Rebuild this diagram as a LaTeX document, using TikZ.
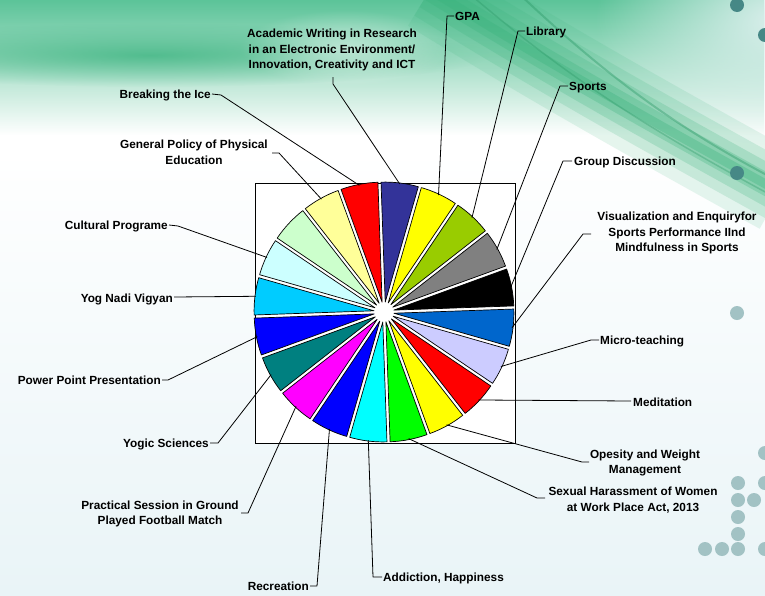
\documentclass[tikz,border=0pt]{standalone}
\usepackage{fontspec}
\setmainfont{Liberation Sans}
\usetikzlibrary{calc,fadings}
\tikzfading[name=softblob, inner color=transparent!0, outer color=transparent!100]
\tikzfading[name=topfade, top color=transparent!0, middle color=transparent!8, bottom color=transparent!100]
\definecolor{mintA}{HTML}{5CC499}
\definecolor{mintB}{HTML}{3FB582}
\definecolor{swA}{HTML}{38B27B}
\definecolor{swB}{HTML}{2A9866}
\definecolor{paleTR}{HTML}{DDF0EE}
\definecolor{bgB}{HTML}{E9F4F7}
\definecolor{dotD}{HTML}{468886}
\definecolor{dotL}{HTML}{A2C2C4}
\definecolor{sA}{HTML}{333399}
\definecolor{sB}{HTML}{FFFF00}
\definecolor{sC}{HTML}{99CC00}
\definecolor{sD}{HTML}{808080}
\definecolor{sE}{HTML}{000000}
\definecolor{sF}{HTML}{0066CC}
\definecolor{sG}{HTML}{CCCCFF}
\definecolor{sH}{HTML}{FF0000}
\definecolor{sI}{HTML}{FFFF00}
\definecolor{sJ}{HTML}{00FF00}
\definecolor{sK}{HTML}{00FFFF}
\definecolor{sL}{HTML}{0000FF}
\definecolor{sM}{HTML}{FF00FF}
\definecolor{sN}{HTML}{008080}
\definecolor{sO}{HTML}{0000FF}
\definecolor{sP}{HTML}{00CCFF}
\definecolor{sQ}{HTML}{CCFFFF}
\definecolor{sR}{HTML}{CCFFCC}
\definecolor{sS}{HTML}{FFFF99}
\definecolor{sT}{HTML}{FF0000}
\begin{document}
\begin{tikzpicture}[x=1pt,y=-1pt,
  lbl/.style={font=\fontsize{11.8}{15.5}\selectfont\bfseries, inner sep=0pt, align=center, text=black},
  one/.style={lbl, text height=8.6pt, text depth=0pt},
  lead/.style={draw=black, line width=0.8pt, line join=round},
  slice/.style={draw=black, line width=0.7pt, line join=round},
  dotdark/.style={fill=dotD},
  dotlight/.style={fill=dotL}]
\useasboundingbox (0,0) rectangle (765,595);
% ---------- background ----------
\fill[white] (0,0) rectangle (765,595);
\shade[top color=white, bottom color=bgB] (0,150) rectangle (765,595);
\fill[mintA, path fading=topfade] (0,0) rectangle (765,135);
\fill[mintB, opacity=0.8, path fading=softblob] (150,55) ellipse (340 and 32);
\fill[white, opacity=0.5, path fading=softblob] (345,48) ellipse (105 and 38);
\fill[paleTR, path fading=softblob] (780,20) ellipse (185 and 125);
\foreach \w/\o in {84/0.13, 60/0.17, 40/0.22, 22/0.28, 9/0.32}
  \draw[swA, line width=\w, opacity=\o] (430,-10) .. controls (560,70) and (650,120) .. (780,192);
\draw[swB, line width=2, opacity=0.4] (515,-10) .. controls (610,80) and (680,130) .. (780,182);
\draw[swB, line width=1.5, opacity=0.35] (465,-10) .. controls (570,80) and (650,130) .. (780,200);
% dots
\foreach \p in {(737,5),(765,35),(737,173)} \fill[dotdark] \p circle (7);
\foreach \p in {(737,313),(765,453),(738,483),(765,483),(738,500),(754,500),(738,517),(738,534),(705,549),(722,549),(738,549),(765,549)} \fill[dotlight] \p circle (7);
% ---------- pie ----------
\coordinate (c) at (384,312);
\filldraw[fill=white, draw=black, line width=0.8pt] (255,183) rectangle (515,443);
\foreach \col [count=\k] in {sA,sB,sC,sD,sE,sF,sG,sH,sI,sJ,sK,sL,sM,sN,sO,sP,sQ,sR,sS,sT} {
  \pgfmathsetmacro\st{18*\k-110}
  \pgfmathsetmacro\en{18*\k-92}
  \pgfmathsetmacro\bi{18*\k-101}
  \filldraw[slice, fill=\col] ($(c)+(\bi:10)$) -- ++(\st:120) arc[start angle=\st, end angle=\en, radius=120] -- cycle;
  \coordinate (p\k) at ($(c)+(\bi:129)$);
}
% ---------- labels ----------
\node[lbl] (l1) at (332,50) {Academic Writing in Research\\in an Electronic Environment/\\Innovation, Creativity and ICT};
\node[one, anchor=west] (l2) at (455,16) {GPA};
\node[one, anchor=west] (l3) at (526,31) {Library};
\node[one, anchor=west] (l4) at (569,86) {Sports};
\node[one, anchor=west] (l5) at (574,161) {Group Discussion};
\node[lbl] (l6) at (677,233) {Visualization and Enquiryfor\\Sports Performance IInd\\Mindfulness in Sports};
\node[one, anchor=west] (l7) at (600,340) {Micro-teaching};
\node[one, anchor=west] (l8) at (633,402) {Meditation};
\node[lbl] (l9) at (645,463) {Opesity and Weight\\Management};
\node[lbl] (l10) at (633,500) {Sexual Harassment of Women\\at Work Place Act, 2013};
\node[one, anchor=west] (l11) at (383,577) {Addiction, Happiness};
\node[one, anchor=east] (l12) at (309,586) {Recreation};
\node[lbl] (l13) at (160,514) {Practical Session in Ground\\Played Football Match};
\node[one, anchor=east] (l14) at (209,443) {Yogic Sciences};
\node[one, anchor=east] (l15) at (161,380) {Power Point Presentation};
\node[one, anchor=east] (l16) at (173,298) {Yog Nadi Vigyan};
\node[one, anchor=east] (l17) at (168,225) {Cultural Programe};
\node[lbl] (l19) at (194,152.5) {General Policy of Physical\\Education};
\node[one, anchor=east] (l20) at (211,94) {Breaking the Ice};
% ---------- bends and tick ends ----------
\coordinate (b1) at (333,84);  \coordinate (t1) at (333,77);
\coordinate (b2) at (447,16);  \coordinate (t2) at (454,16);
\coordinate (b3) at (518,31);  \coordinate (t3) at (525,31);
\coordinate (b4) at (560,86);  \coordinate (t4) at (568,86);
\coordinate (b5) at (563,161); \coordinate (t5) at (572,161);
\coordinate (b6) at (583,234); \coordinate (t6) at (591,234);
\coordinate (b7) at (591,340); \coordinate (t7) at (599,340);
\coordinate (t8) at (631,401);
\coordinate (b9) at (582,462); \coordinate (t9) at (589,462);
\coordinate (b10) at (537,498); \coordinate (t10) at (545,498);
\coordinate (b11) at (373,577); \coordinate (t11) at (382,577);
\coordinate (b12) at (317,586); \coordinate (t12) at (310,586);
\coordinate (b13) at (248,513); \coordinate (t13) at (241,513);
\coordinate (b14) at (218,443); \coordinate (t14) at (210,443);
\coordinate (b15) at (168,380); \coordinate (t15) at (162,380);
\coordinate (t16) at (174,297);
\coordinate (b17) at (178,226); \coordinate (t17) at (169,225);
\coordinate (b19) at (279,153); \coordinate (t19) at (272,153);
\coordinate (b20) at (221,95);  \coordinate (t20) at (212,94);
% ---------- leader lines ----------
\foreach \k in {1,2,3,4,5,6,7,9,10,11,12,13,14,15,17,19,20}
  \draw[lead] (p\k) -- (b\k) -- (t\k);
\draw[lead] (p8) -- (t8);
\draw[lead] (p16) -- (t16);
\end{tikzpicture}
\end{document}
